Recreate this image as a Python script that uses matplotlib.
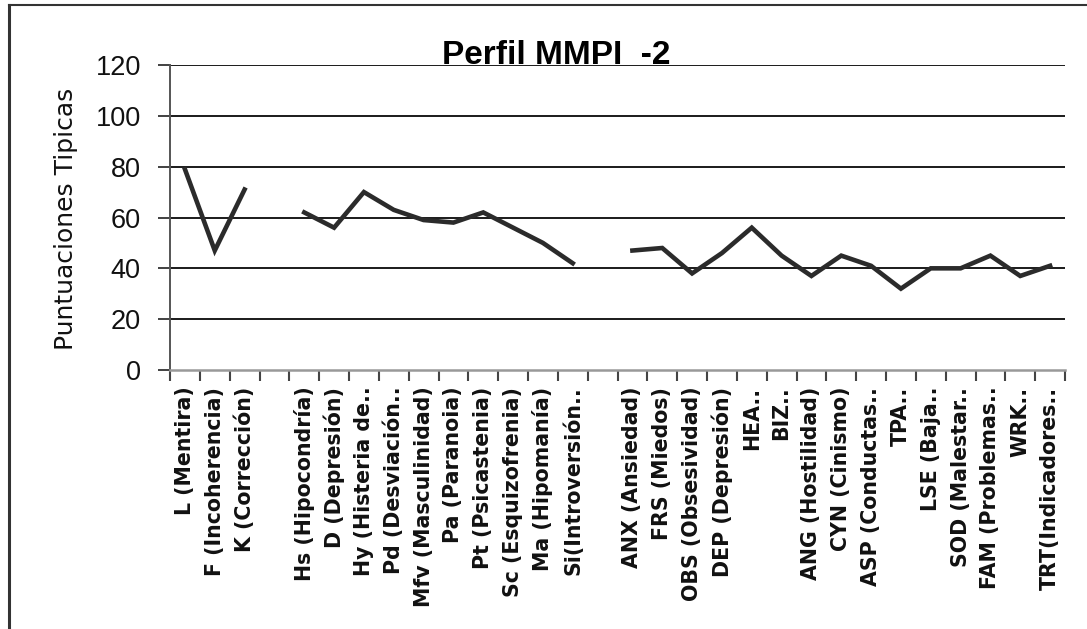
import matplotlib
matplotlib.use("Agg")
import matplotlib.pyplot as plt
from matplotlib.lines import Line2D
import numpy as np

labels = ["L (Mentira)", "F (Incoherencia)", "K (Corrección)", "",
          "Hs (Hipocondría)", "D (Depresión)", "Hy (Histeria de..", "Pd (Desviación..",
          "Mfv (Masculinidad)", "Pa (Paranoia)", "Pt (Psicastenia)", "Sc (Esquizofrenia)",
          "Ma (Hipomanía)", "Si(Introversión..", "",
          "ANX (Ansiedad)", "FRS (Miedos)", "OBS (Obsesividad)", "DEP (Depresión)",
          "HEA..", "BIZ..", "ANG (Hostilidad)", "CYN (Cinismo)", "ASP (Conductas..",
          "TPA..", "LSE (Baja..", "SOD (Malestar..", "FAM (Problemas..", "WRK..",
          "TRT(Indicadores.."]

validity = [79, 47, 71]
clinical = [62, 56, 70, 63, 59, 58, 62, 56, 50, 42]
content = [47, 48, 38, 46, 56, 45, 37, 45, 41, 32, 40, 40, 45, 37, 41]

y_ticks = [0, 20, 40, 60, 80, 100, 120]

nan = np.nan
values = validity + [nan] + clinical + [nan] + content
x = np.arange(len(labels))

plt.rcParams['font.family'] = ['Liberation Sans', 'DejaVu Sans']
fig = plt.figure(figsize=(10.87, 6.29), dpi=100)
ax = fig.add_axes([170/1087, 1-370/629, (1065-170)/1087, (370-65)/629])

for y in y_ticks[1:]:
    ax.axhline(y, color='#1a1a1a', lw=1.4, zorder=1)

ax.plot(x, values, color='#2b2b2b', lw=3.3, solid_joinstyle='miter', zorder=3)

ax.set_xlim(-0.5, len(labels) - 0.5)
ax.set_ylim(0, 120)
ax.set_yticks(y_ticks)
ax.set_yticklabels([str(v) for v in y_ticks], fontsize=19.5, color='#111')
ax.tick_params(axis='y', length=9, width=1.3, color='#333', pad=12, direction='out')

ax.set_xticks(x)
ax.set_xticklabels(labels, rotation=90, fontsize=14.8, fontweight='bold',
                   va='top', ha='center', family='DejaVu Sans', color='#111')
ax.set_xticks(np.arange(-0.5, len(labels), 1.0), minor=True)
ax.tick_params(axis='x', which='major', length=0, pad=12)
ax.tick_params(axis='x', which='minor', length=8, width=1.5, color='#444', direction='out')

for s in ['top', 'right']:
    ax.spines[s].set_visible(False)
ax.spines['left'].set_color('#555')
ax.spines['left'].set_linewidth(1.4)
ax.spines['bottom'].set_color('#999')
ax.spines['bottom'].set_linewidth(1.8)

ax.set_ylabel("Puntuaciones Tipicas", fontsize=18, family='DejaVu Sans', color='#111')
ax.yaxis.set_label_coords(-0.103, 0.495)

fig.text(556/1087, 1-55/629, "Perfil MMPI  -2", fontsize=24, fontweight='bold',
         ha='center', va='center')

fig.add_artist(Line2D([9/1087, 9/1087], [0, 1-5/629], transform=fig.transFigure,
                      color='#333', lw=2.2))
fig.add_artist(Line2D([9/1087, 1], [1-5/629, 1-5/629], transform=fig.transFigure,
                      color='#333', lw=1.5))

fig.savefig("out.png", dpi=100)
